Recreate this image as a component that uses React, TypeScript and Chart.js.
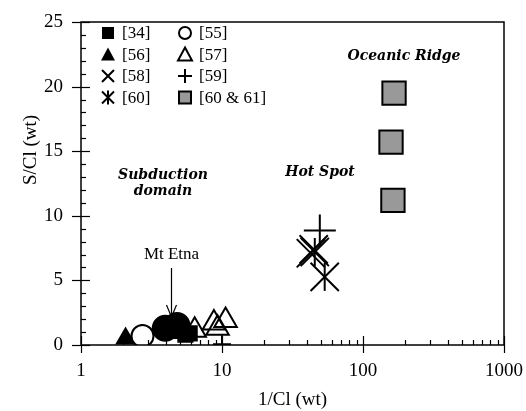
import React, { useEffect, useRef } from 'react';
import { Chart, registerables } from 'chart.js';

Chart.register(...registerables);

// ---- data ----
const xTickLabels = [1, 10, 100, 1000];
const yTickStep = 5;

const etnaCircles = [{ x: 3.96, y: 1.3 }, { x: 4.8, y: 1.5 }];
const ref34 = [{ x: 5.5, y: 0.8 }, { x: 5.9, y: 0.9 }];
const ref55 = [{ x: 2.73, y: 0.7 }];
const ref56 = [{ x: 2.07, y: 0.5 }];
const ref57 = [{ x: 8.76, y: 1.7 }, { x: 10.6, y: 1.9 }, { x: 9.3, y: 1.3 }, { x: 6.4, y: 1.15 }];
const ref58 = [{ x: 44.7, y: 7.4 }, { x: 42.7, y: 7.1 }];
const ref59 = [{ x: 49.4, y: 8.87 }, { x: 10, y: 0.05 }];
const ref60 = [{ x: 45.5, y: 7.2 }, { x: 53.5, y: 5.27 }];
const ref6061 = [{ x: 166, y: 19.5 }, { x: 158, y: 15.7 }, { x: 163, y: 11.2 }];

const legendItems = ['[34]', '[55]', '[56]', '[57]', '[58]', '[59]', '[60]', '[60 & 61]'];

const SERIF = '"Liberation Serif", "Times New Roman", serif';
const ANN = '"DejaVu Serif", serif';

function drawLegendMarker(ctx: CanvasRenderingContext2D, kind: number, x: number, y: number) {
  ctx.save();
  ctx.lineWidth = 2;
  ctx.strokeStyle = '#000';
  ctx.fillStyle = '#000';
  const s = 6;
  ctx.beginPath();
  switch (kind) {
    case 0:
      ctx.fillRect(x - s, y - s, 2 * s, 2 * s);
      break;
    case 1:
      ctx.arc(x, y, s, 0, Math.PI * 2);
      ctx.stroke();
      break;
    case 2:
    case 3:
      ctx.moveTo(x, y - s - 1);
      ctx.lineTo(x + s + 1, y + s);
      ctx.lineTo(x - s - 1, y + s);
      ctx.closePath();
      if (kind === 2) ctx.fill(); else ctx.stroke();
      break;
    case 4:
      ctx.moveTo(x - s, y - s); ctx.lineTo(x + s, y + s);
      ctx.moveTo(x - s, y + s); ctx.lineTo(x + s, y - s);
      ctx.stroke();
      break;
    case 5:
      ctx.moveTo(x - s - 1, y); ctx.lineTo(x + s + 1, y);
      ctx.moveTo(x, y - s - 1); ctx.lineTo(x, y + s + 1);
      ctx.stroke();
      break;
    case 6:
      ctx.moveTo(x - s, y - s); ctx.lineTo(x + s, y + s);
      ctx.moveTo(x - s, y + s); ctx.lineTo(x + s, y - s);
      ctx.moveTo(x, y - s - 1); ctx.lineTo(x, y + s + 1);
      ctx.stroke();
      break;
    case 7:
      ctx.fillStyle = '#999';
      ctx.rect(x - s, y - s, 2 * s, 2 * s);
      ctx.fill();
      ctx.stroke();
      break;
  }
  ctx.restore();
}

const decorPlugin = {
  id: 'decor',
  afterDraw(chart: any) {
    const { ctx, chartArea } = chart;
    const xs = chart.scales.x;
    const ys = chart.scales.y;
    const { left, right, top, bottom } = chartArea;
    ctx.save();
    ctx.strokeStyle = '#000';
    ctx.lineWidth = 1.5;
    ctx.strokeRect(left, top, right - left, bottom - top);

    // y ticks
    ctx.lineWidth = 1.2;
    for (let v = 0; v <= 25; v++) {
      const py = Math.round(ys.getPixelForValue(v)) + 0.5;
      ctx.beginPath();
      if (v % yTickStep === 0) {
        ctx.moveTo(left - 9, py); ctx.lineTo(left + 9, py);
      } else {
        ctx.moveTo(left, py); ctx.lineTo(left + 5, py);
      }
      ctx.stroke();
    }
    // x ticks
    for (let d = 1; d < 1000; d *= 10) {
      for (let m = 1; m <= 9; m++) {
        const px = Math.round(xs.getPixelForValue(d * m)) + 0.5;
        ctx.beginPath();
        if (m === 1) {
          ctx.moveTo(px, bottom + 8); ctx.lineTo(px, bottom - 9);
        } else {
          ctx.moveTo(px, bottom); ctx.lineTo(px, bottom - 5);
        }
        ctx.stroke();
      }
    }
    const p1000 = Math.round(xs.getPixelForValue(1000)) + 0.5;
    ctx.beginPath(); ctx.moveTo(p1000, bottom + 8); ctx.lineTo(p1000, bottom - 9); ctx.stroke();

    // axis titles
    ctx.fillStyle = '#000';
    ctx.font = `19px ${SERIF}`;
    ctx.textAlign = 'center';
    ctx.textBaseline = 'middle';
    ctx.fillText('1/Cl (wt)', (left + right) / 2, 400);
    ctx.save();
    ctx.translate(31, 150);
    ctx.rotate(-Math.PI / 2);
    ctx.fillText('S/Cl (wt)', 0, 0);
    ctx.restore();

    // legend
    ctx.font = `17px ${SERIF}`;
    ctx.textAlign = 'left';
    const colMarker = [108, 185];
    const colText = [122, 199];
    const rows = [33, 54.5, 76, 97.5];
    legendItems.forEach((label, i) => {
      const c = i % 2;
      const r = Math.floor(i / 2);
      drawLegendMarker(ctx, i, colMarker[c], rows[r]);
      ctx.fillText(label, colText[c], rows[r] + 1);
    });

    // annotations
    ctx.font = `bold italic 14px ${ANN}`;
    ctx.textAlign = 'center';
    ctx.fillText('Oceanic Ridge', 404, 56);
    ctx.fillText('Hot Spot', 320, 172);
    ctx.fillText('Subduction', 163, 175);
    ctx.fillText('domain', 163, 191);

    ctx.font = `17px ${SERIF}`;
    const ex = Math.round(xs.getPixelForValue(4.37)) + 0.5;
    ctx.fillText('Mt Etna', ex, 255);
    ctx.lineWidth = 1.2;
    ctx.beginPath();
    ctx.moveTo(ex, 268); ctx.lineTo(ex, 317);
    ctx.moveTo(ex - 5, 305); ctx.lineTo(ex, 317); ctx.lineTo(ex + 5, 305);
    ctx.stroke();
    ctx.restore();
  },
};

export default function App() {
  const ref = useRef<HTMLCanvasElement | null>(null);
  useEffect(() => {
    const prevMargin = document.body.style.margin;
    document.body.style.margin = '0';
    Chart.defaults.font.family = SERIF;
    const base = { borderColor: '#000', borderWidth: 2, showLine: false };
    const chart = new Chart(ref.current as HTMLCanvasElement, {
      type: 'scatter',
      data: {
        datasets: [
          { ...base, label: '[60 & 61]', data: ref6061, pointStyle: 'rect', pointRadius: 16.5, backgroundColor: '#999' },
          { ...base, label: '[59]', data: ref59, pointStyle: 'cross', pointRadius: [16, 9], backgroundColor: '#000' },
          { ...base, label: '[58]', data: ref58, pointStyle: 'crossRot', pointRadius: 20, backgroundColor: '#000' },
          { ...base, label: '[60]', data: ref60, pointStyle: 'crossRot', pointRadius: 20, backgroundColor: '#000' },
          { ...base, label: '[60] bar', data: ref60, pointStyle: 'line', pointRotation: 90, pointRadius: 14, backgroundColor: '#000' },
          { ...base, label: '[57]', data: ref57, pointStyle: 'triangle', pointRadius: 13, backgroundColor: 'rgba(0,0,0,0)' },
          { ...base, label: '[34]', data: ref34, pointStyle: 'rect', pointRadius: 10, backgroundColor: '#000' },
          { ...base, label: 'Mt Etna', data: etnaCircles, pointStyle: 'circle', pointRadius: 12.5, backgroundColor: '#000' },
          { ...base, label: '[55]', data: ref55, pointStyle: 'circle', pointRadius: 11, backgroundColor: '#fff' },
          { ...base, label: '[56]', data: ref56, pointStyle: 'triangle', pointRadius: 10, backgroundColor: '#000' },
        ],
      },
      options: {
        animation: false,
        responsive: false,
        layout: { padding: { top: 18, right: 19, left: 0, bottom: 0 } },
        plugins: { legend: { display: false }, tooltip: { enabled: false } },
        elements: { point: { hoverRadius: 0 } },
        scales: {
          x: {
            type: 'logarithmic',
            min: 1,
            max: 1000,
            afterFit: (s: any) => { s.height = 66; s.paddingLeft = 0; s.paddingRight = 0; },
            grid: { display: false, drawTicks: false },
            border: { display: false },
            ticks: {
              autoSkip: false,
              maxRotation: 0,
              padding: 15,
              color: '#000',
              font: { size: 19, family: SERIF },
              callback: (v: any) => (xTickLabels.includes(Number(v)) ? String(v) : ''),
            },
          },
          y: {
            type: 'linear',
            min: 0,
            max: 25,
            afterFit: (s: any) => { s.width = 81; s.paddingTop = 0; s.paddingBottom = 0; },
            grid: { display: false, drawTicks: false },
            border: { display: false },
            ticks: {
              stepSize: yTickStep,
              padding: 18,
              color: '#000',
              font: { size: 19, family: SERIF },
            },
          },
        },
      },
      plugins: [decorPlugin],
    } as any);
    return () => {
      chart.destroy();
      document.body.style.margin = prevMargin;
    };
  }, []);
  return (
    <div style={{ position: 'absolute', left: 0, top: 0, width: 526, height: 411 }}>
      <canvas ref={ref} width={526} height={411} style={{ display: 'block' }} />
    </div>
  );
}
